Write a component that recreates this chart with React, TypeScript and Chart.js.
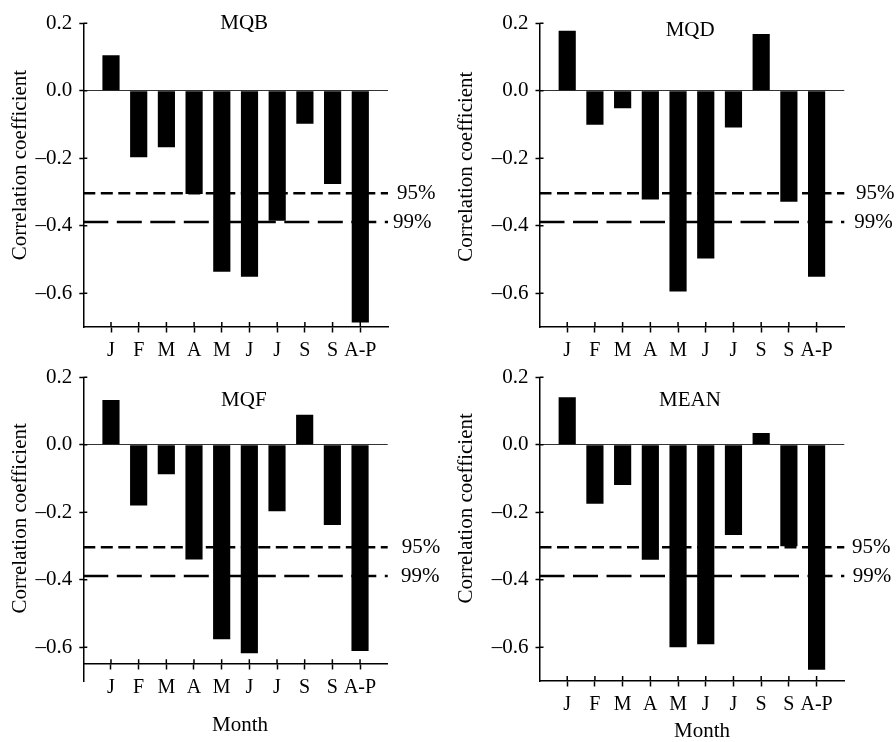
import React, { useEffect, useRef } from "react";
import { Chart, registerables } from "chart.js";

Chart.register(...registerables);

// ---------------- data ----------------
const months = ["J", "F", "M", "A", "M", "J", "J", "S", "S", "A-P"];
const mqbValues = [0.105, -0.197, -0.167, -0.306, -0.536, -0.551, -0.385, -0.098, -0.276, -0.687];
const mqdValues = [0.178, -0.101, -0.052, -0.322, -0.595, -0.497, -0.109, 0.168, -0.329, -0.551];
const mqfValues = [0.133, -0.18, -0.087, -0.34, -0.576, -0.618, -0.197, 0.089, -0.238, -0.611];
const meanValues = [0.141, -0.175, -0.119, -0.341, -0.6, -0.591, -0.267, 0.035, -0.301, -0.667];
const yTickValues = [-0.6, -0.4, -0.2, 0, 0.2];
const yTickLabels = ["\u20130.6", "\u20130.4", "\u20130.2", "0.0", "0.2"];
const sig95 = -0.304;
const sig99 = -0.389;
const sigLabels = ["95%", "99%"];
const yMin = -0.7;
const yMax = 0.2;
const yTitle = "Correlation coefficient";
const xTitle = "Month";

// ---------------- layout / style ----------------
const FONT = '"Liberation Serif", "Times New Roman", Times, serif';

type PanelCfg = {
  title: string;
  values: number[];
  xAxisAt: number;
  canvas: { left: number; top: number; w: number; h: number };
  area: { left: number; right: number; top: number; bottom: number };
  titleAt: [number, number];
  yTitleAt: [number, number];
  monthAt: [number, number] | null;
  pctDx: [number, number];
};

const PANELS: PanelCfg[] = [
  {
    title: "MQB",
    values: mqbValues,
    xAxisAt: -0.7,
    canvas: { left: 0, top: 0, w: 448, h: 380 },
    area: { left: 83.3, right: 388, top: 23.3, bottom: 327 },
    titleAt: [244.2, 23.7],
    yTitleAt: [20, 165],
    monthAt: null,
    pctDx: [9, 5],
  },
  {
    title: "MQD",
    values: mqdValues,
    xAxisAt: -0.7,
    canvas: { left: 448, top: 0, w: 448, h: 380 },
    area: { left: 539.5, right: 844.3, top: 23.3, bottom: 327 },
    titleAt: [690.2, 30],
    yTitleAt: [466, 166.7],
    monthAt: null,
    pctDx: [11.7, 10],
  },
  {
    title: "MQF",
    values: mqfValues,
    xAxisAt: -0.65,
    canvas: { left: 0, top: 350, w: 448, h: 392 },
    area: { left: 83.3, right: 387.7, top: 377.3, bottom: 681 },
    titleAt: [243.8, 400.5],
    yTitleAt: [20, 518.3],
    monthAt: [240, 725],
    pctDx: [14, 13.3],
  },
  {
    title: "MEAN",
    values: meanValues,
    xAxisAt: -0.7,
    canvas: { left: 448, top: 350, w: 448, h: 392 },
    area: { left: 539.5, right: 844.3, top: 377.3, bottom: 681 },
    titleAt: [690, 400],
    yTitleAt: [466, 508.3],
    monthAt: [702, 731.5],
    pctDx: [7.7, 8.4],
  },
];

function Panel({ cfg }: { cfg: PanelCfg }) {
  const ref = useRef<HTMLCanvasElement | null>(null);

  useEffect(() => {
    const canvas = ref.current;
    if (!canvas) return;
    const c = cfg.canvas;
    const a = cfg.area;
    const labels = ["", ...months, ""];
    const barData = [null, ...cfg.values, null];
    const line95 = labels.map(() => sig95);
    const line99 = labels.map(() => sig99);
    const yAxisWidth = a.left - c.left;

    const overlay = {
      id: "overlay",
      afterDraw(chart: any) {
        const ctx = chart.ctx;
        const xs = chart.scales.x;
        const ys = chart.scales.y;
        const ca = chart.chartArea;
        ctx.save();
        // inner halves of tick marks
        ctx.strokeStyle = "#000";
        ctx.lineWidth = 1.5;
        ctx.beginPath();
        yTickValues.forEach((v) => {
          const py = ys.getPixelForValue(v);
          ctx.moveTo(ca.left, py);
          ctx.lineTo(ca.left + 4, py);
        });
        const axisY = ys.getPixelForValue(cfg.xAxisAt);
        for (let i = 1; i < labels.length - 1; i++) {
          const px = xs.getPixelForTick(i);
          ctx.moveTo(px, axisY);
          ctx.lineTo(px, axisY - 5);
        }
        ctx.stroke();

        ctx.fillStyle = "#000";
        ctx.font = `21px ${FONT}`;
        // significance labels
        ctx.textAlign = "left";
        ctx.textBaseline = "middle";
        ctx.fillText(sigLabels[0], ca.right + cfg.pctDx[0], ys.getPixelForValue(sig95));
        ctx.fillText(sigLabels[1], ca.right + cfg.pctDx[1], ys.getPixelForValue(sig99));
        // panel title
        ctx.textAlign = "center";
        ctx.fillText(cfg.title, cfg.titleAt[0] - c.left, cfg.titleAt[1] - c.top);
        // x title
        if (cfg.monthAt) {
          ctx.fillText(xTitle, cfg.monthAt[0] - c.left, cfg.monthAt[1] - c.top);
        }
        // y title
        ctx.translate(cfg.yTitleAt[0] - c.left, cfg.yTitleAt[1] - c.top);
        ctx.rotate(-Math.PI / 2);
        ctx.fillText(yTitle, 0, 0);
        ctx.restore();
      },
    };

    const chart = new Chart(canvas, {
      type: "bar",
      data: {
        labels,
        datasets: [
          {
            type: "bar",
            data: barData as any,
            backgroundColor: "#000",
            borderWidth: 0,
            barPercentage: 0.62,
            categoryPercentage: 1,
            order: 2,
          },
          {
            type: "line",
            data: line95,
            borderColor: "#000",
            borderWidth: 2.5,
            borderDash: [12, 5.5],
            pointRadius: 0,
            fill: false,
            tension: 0,
            order: 1,
          } as any,
          {
            type: "line",
            data: line99,
            borderColor: "#000",
            borderWidth: 2.5,
            borderDash: [25, 8.5],
            pointRadius: 0,
            fill: false,
            tension: 0,
            order: 1,
          } as any,
        ],
      },
      options: {
        responsive: false,
        animation: false,
        layout: {
          padding: {
            left: 0,
            top: a.top - c.top,
            right: c.left + c.w - a.right,
            bottom: c.top + c.h - a.bottom,
          },
        },
        plugins: {
          legend: { display: false },
          tooltip: { enabled: false },
          title: { display: false },
        },
        scales: {
          x: {
            type: "category",
            position: { y: cfg.xAxisAt } as any,
            offset: false,
            grid: {
              offset: false,
              drawOnChartArea: false,
              drawTicks: true,
              tickLength: 5,
              tickWidth: 1.5,
              tickColor: (ctx: any) =>
                ctx.index === 0 || ctx.index === labels.length - 1 ? "rgba(0,0,0,0)" : "#000",
            },
            border: { color: "#000", width: 1.5 },
            ticks: {
              autoSkip: false,
              maxRotation: 0,
              minRotation: 0,
              padding: 7,
              color: "#000",
              font: { family: FONT, size: 20 },
            },
          },
          y: {
            type: "linear",
            position: "left",
            min: yMin,
            max: yMax,
            afterBuildTicks: (s: any) => {
              s.ticks = yTickValues.map((v) => ({ value: v }));
            },
            afterFit: (s: any) => {
              s.width = yAxisWidth;
            },
            grid: {
              drawOnChartArea: true,
              color: (ctx: any) =>
                ctx.tick && ctx.tick.value === 0 ? "#333" : "rgba(0,0,0,0)",
              lineWidth: 1,
              tickLength: 4,
              tickWidth: 1.5,
              tickColor: "#000",
            },
            border: { color: "#000", width: 1.5 },
            ticks: {
              padding: 7,
              color: "#000",
              font: { family: FONT, size: 21 },
              callback: (_v: any, i: number) => yTickLabels[i],
            },
          },
        },
      } as any,
      plugins: [overlay],
    });

    return () => chart.destroy();
  }, [cfg]);

  return (
    <canvas
      ref={ref}
      width={cfg.canvas.w}
      height={cfg.canvas.h}
      style={{
        position: "absolute",
        left: cfg.canvas.left,
        top: cfg.canvas.top,
        width: cfg.canvas.w,
        height: cfg.canvas.h,
      }}
    />
  );
}

export default function App() {
  return (
    <div
      style={{
        position: "absolute",
        left: 0,
        top: 0,
        width: 896,
        height: 742,
        background: "#fff",
        overflow: "hidden",
      }}
    >
      {PANELS.map((p) => (
        <Panel key={p.title} cfg={p} />
      ))}
    </div>
  );
}
